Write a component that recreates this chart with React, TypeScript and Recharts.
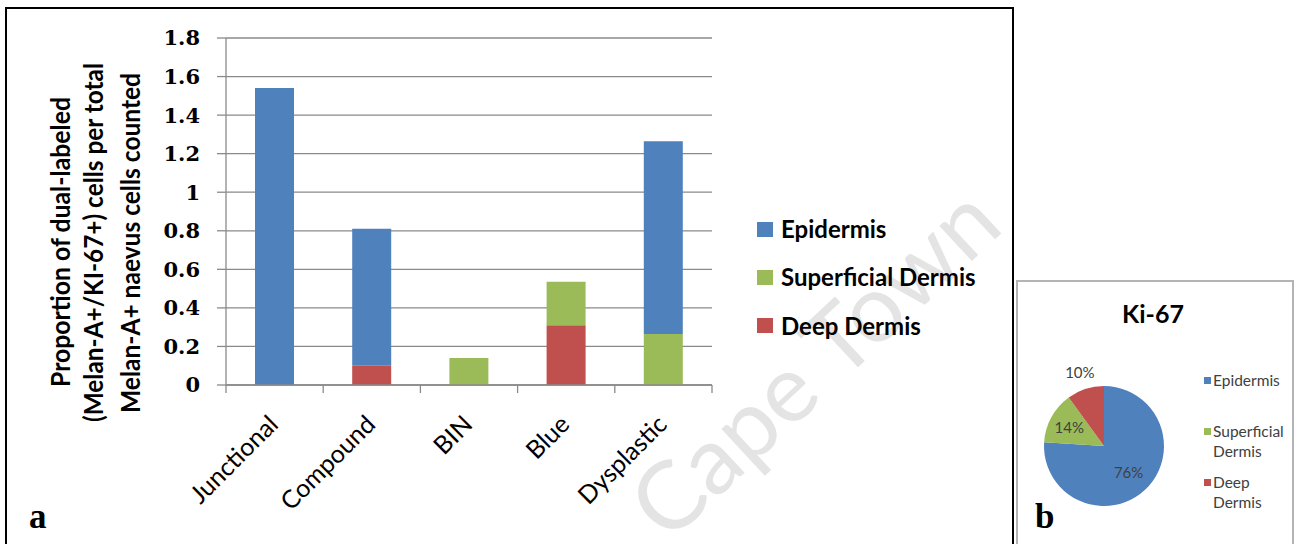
import React from 'react';
import { BarChart, Bar, XAxis, YAxis, CartesianGrid, Legend, PieChart, Pie, Cell } from 'recharts';

const categories = ['Junctional', 'Compound', 'BIN', 'Blue', 'Dysplastic'];
const epidermis = [1.54, 0.71, 0, 0, 1.0];
const superficialDermis = [0, 0, 0.14, 0.225, 0.265];
const deepDermis = [0, 0.1, 0, 0.31, 0];
const yTicks = [0, 0.2, 0.4, 0.6, 0.8, 1, 1.2, 1.4, 1.6, 1.8];
const seriesNames = ['Epidermis', 'Superficial Dermis', 'Deep Dermis'];
const seriesColors = ['#4F81BD', '#9BBB59', '#C0504D'];
const yAxisTitle = [
  'Proportion of dual-labeled',
  '(Melan-A+/KI-67+) cells per total',
  'Melan-A+ naevus cells counted',
];
const pieTitle = 'Ki-67';
const pieNames = ['Epidermis', 'Superficial Dermis', 'Deep Dermis'];
const pieValues = [76, 14, 10];
const panelLetters = ['a', 'b'];
const watermark = 'Cape Town';

const barData = categories.map((name, i) => ({
  name,
  epidermis: epidermis[i],
  superficial: superficialDermis[i],
  deep: deepDermis[i],
}));
const pieData = pieNames.map((name, i) => ({ name, value: pieValues[i] }));

const SANS = 'Lato, "Open Sans", sans-serif';
const GRID = '#8a8a8a';
const X_TICK_SIZE = 8;

const XTick = (props: any) => {
  const { x, y, payload, index, width } = props;
  const half = typeof payload?.offset === 'number' && payload.offset > 0 ? payload.offset : (width || 486) / categories.length / 2;
  const axisY = y - X_TICK_SIZE;
  const tx = x + 5;
  const ty = axisY + 41;
  return (
    <g>
      <line x1={x - half} y1={axisY} x2={x - half} y2={axisY + X_TICK_SIZE} stroke={GRID} strokeWidth={1.3} />
      {index === categories.length - 1 && (
        <line x1={x + half} y1={axisY} x2={x + half} y2={axisY + X_TICK_SIZE} stroke={GRID} strokeWidth={1.3} />
      )}
      <text
        x={tx}
        y={ty}
        transform={`rotate(-45, ${tx}, ${ty})`}
        textAnchor="end"
        fontFamily={SANS}
        fontSize={25}
        fill="#000"
      >
        {payload.value}
      </text>
    </g>
  );
};

const BarLegend = () => (
  <div style={{ fontFamily: SANS, fontWeight: 700, fontSize: 24, color: '#000' }}>
    {seriesNames.map((n, i) => (
      <div key={n} style={{ display: 'flex', alignItems: 'center', height: 48.3 }}>
        <span style={{ width: 16, height: 15, background: seriesColors[i], marginRight: 8, flex: 'none' }} />
        <span style={{ lineHeight: '24px', whiteSpace: 'nowrap' }}>{n}</span>
      </div>
    ))}
  </div>
);

const PieLegend = () => (
  <div style={{ fontFamily: SANS, fontSize: 15.5, color: '#404040' }}>
    {pieNames.map((n, i) => (
      <div key={n} style={{ display: 'flex', alignItems: 'flex-start', height: 51 }}>
        <span style={{ width: 7, height: 7, background: seriesColors[i], marginRight: 2, marginTop: 6.5, flex: 'none' }} />
        <span style={{ lineHeight: '20px', width: 78 }}>{n}</span>
      </div>
    ))}
  </div>
);

const RADIAN = Math.PI / 180;
const renderPieLabel = (props: any) => {
  const { cx, cy, midAngle, outerRadius, percent, index } = props;
  const k = index === 2 ? 1.3 : index === 1 ? 0.66 : 0.6;
  const r = outerRadius * k;
  const x = cx + r * Math.cos(-midAngle * RADIAN);
  const y = cy + r * Math.sin(-midAngle * RADIAN);
  return (
    <text x={x} y={y} textAnchor="middle" dominantBaseline="central" fontFamily={SANS} fontSize={15} fill="#404040">
      {`${Math.round(percent * 100)}%`}
    </text>
  );
};

export default function App() {
  return (
    <div style={{ position: 'absolute', left: 0, top: 0, width: 1298, height: 544, background: '#fff', overflow: 'hidden' }}>
      {/* watermark */}
      <svg width={1298} height={544} style={{ position: 'absolute', left: 0, top: 0 }}>
        <text
          x={812}
          y={360}
          transform="rotate(-43, 812, 360)"
          textAnchor="middle"
          dominantBaseline="central"
          fontFamily={SANS}
          fontSize={94}
          fill="#e4e4e4"
          textLength={462}
          lengthAdjust="spacingAndGlyphs"
        >
          {watermark}
        </text>
      </svg>

      {/* main chart box */}
      <div style={{ position: 'absolute', left: 5, top: 7, width: 1009, height: 600, border: '2px solid #000', boxSizing: 'border-box' }} />

      <div style={{ position: 'absolute', left: 0, top: 0 }}>
        <BarChart
          width={1014}
          height={544}
          data={barData}
          margin={{ top: 38, right: 302, left: 166, bottom: 99 }}
          barSize={39}
        >
          <CartesianGrid horizontal vertical={false} stroke={GRID} strokeWidth={1.3} />
          <XAxis
            dataKey="name"
            height={60}
            interval={0}
            tickLine={false}
            tickSize={X_TICK_SIZE}
            tickMargin={0}
            axisLine={{ stroke: GRID, strokeWidth: 1.3 }}
            tick={<XTick />}
          />
          <YAxis
            width={60}
            domain={[0, 1.8]}
            ticks={yTicks}
            interval={0}
            tickSize={9}
            tickMargin={17}
            axisLine={{ stroke: GRID, strokeWidth: 1.3 }}
            tickLine={{ stroke: GRID, strokeWidth: 1.3 }}
            tick={{ fontFamily: '"DejaVu Serif", serif', fontWeight: 700, fontSize: 21, fill: '#000' }}
          />
          <Bar dataKey="deep" name={seriesNames[2]} stackId="a" fill={seriesColors[2]} isAnimationActive={false} />
          <Bar dataKey="superficial" name={seriesNames[1]} stackId="a" fill={seriesColors[1]} isAnimationActive={false} />
          <Bar dataKey="epidermis" name={seriesNames[0]} stackId="a" fill={seriesColors[0]} isAnimationActive={false} />
          <Legend
            layout="vertical"
            align="center"
            verticalAlign="middle"
            wrapperStyle={{ left: 757, top: 205, width: 250 }}
            content={<BarLegend />}
          />
        </BarChart>
      </div>

      {/* pie panel border */}
      <div style={{ position: 'absolute', left: 1016, top: 280, width: 278, height: 300, border: '2px solid #b4b4b4', boxSizing: 'border-box' }} />

      {/* pie panel */}
      <div style={{ position: 'absolute', left: 1017, top: 281, width: 276, height: 263 }}>
        <svg width={276} height={263} style={{ position: 'absolute', left: 0, top: 0 }}>
          <text x={136} y={32} textAnchor="middle" dominantBaseline="central" fontFamily={SANS} fontWeight={700} fontSize={25} fill="#000">
            {pieTitle}
          </text>
        </svg>
        <div style={{ position: 'absolute', left: 0, top: 0 }}>
          <PieChart width={276} height={263} margin={{ top: 0, right: 0, bottom: 0, left: 0 }}>
            <Pie
              data={pieData}
              dataKey="value"
              nameKey="name"
              cx={87}
              cy={165}
              outerRadius={60}
              startAngle={90}
              endAngle={-270}
              stroke="none"
              labelLine={false}
              label={renderPieLabel}
              isAnimationActive={false}
            >
              {pieData.map((d, i) => (
                <Cell key={d.name} fill={seriesColors[i]} />
              ))}
            </Pie>
            <Legend
              layout="vertical"
              align="center"
              verticalAlign="middle"
              wrapperStyle={{ left: 187, top: 89, width: 88 }}
              content={<PieLegend />}
            />
          </PieChart>
        </div>
      </div>

      {/* y-axis title, panel letters */}
      <svg width={1298} height={544} style={{ position: 'absolute', left: 0, top: 0, pointerEvents: 'none' }}>
        {yAxisTitle.map((line, i) => {
          const xs = [70, 103, 140];
          const ys = [242, 242.5, 243];
          const lens = [290, 359, 340];
          return (
            <text
              key={line}
              x={xs[i]}
              y={ys[i]}
              transform={`rotate(-90, ${xs[i]}, ${ys[i]})`}
              textAnchor="middle"
              fontFamily={SANS}
              fontWeight={700}
              fontSize={27}
              fill="#000"
              textLength={lens[i]}
              lengthAdjust="spacingAndGlyphs"
            >
              {line}
            </text>
          );
        })}
        <text x={29} y={528} fontFamily='"Liberation Serif", serif' fontWeight={700} fontSize={35} fill="#000">
          {panelLetters[0]}
        </text>
        <text x={1035} y={528} fontFamily='"Liberation Serif", serif' fontWeight={700} fontSize={35} fill="#000">
          {panelLetters[1]}
        </text>
      </svg>
    </div>
  );
}
